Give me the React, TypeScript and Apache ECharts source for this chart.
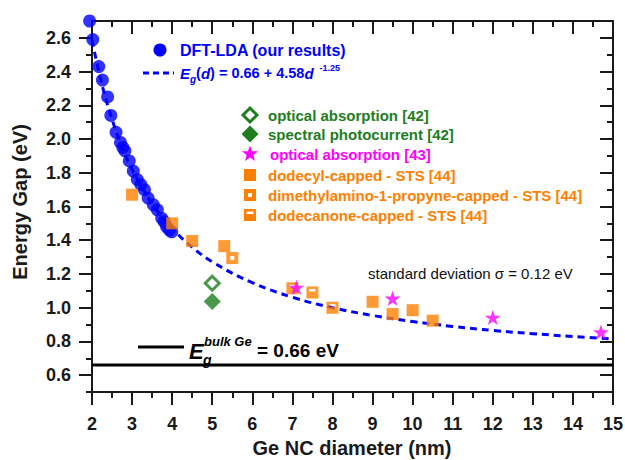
import React, { useEffect, useRef } from 'react';
import * as echarts from 'echarts';

// DFT-LDA (our results)
const dftD = [1.94, 2.02, 2.17, 2.26, 2.39, 2.47, 2.6, 2.71, 2.77, 2.82, 2.93, 3.03, 3.13, 3.22, 3.31, 3.4, 3.53, 3.63, 3.74, 3.8, 3.86, 3.93, 3.99];
const dftE = [2.7, 2.59, 2.43, 2.35, 2.25, 2.14, 2.04, 1.98, 1.95, 1.93, 1.87, 1.81, 1.76, 1.73, 1.7, 1.65, 1.61, 1.58, 1.53, 1.51, 1.48, 1.46, 1.45];
// Fit curve Eg(d) = 0.66 + 4.58 d^-1.25
const fitD = [2, 2.25, 2.5, 2.75, 3, 3.5, 4, 4.5, 5, 6, 7, 8, 9, 10, 11, 12, 13, 14, 15];
const fitE = [2.586, 2.322, 2.117, 1.953, 1.82, 1.617, 1.47, 1.359, 1.272, 1.148, 1.062, 1.0, 0.954, 0.918, 0.889, 0.865, 0.846, 0.829, 0.815];
// bulk Ge gap
const bulkD = [2, 15];
const bulkE = [0.66, 0.66];
// optical absorption [42] (open diamond)
const optAbs42D = [5.0];
const optAbs42E = [1.145];
// spectral photocurrent [42] (filled diamond)
const photo42D = [5.0];
const photo42E = [1.037];
// optical absorption [43] (stars)
const optAbs43D = [7.1, 9.5, 12.0, 14.7];
const optAbs43E = [1.12, 1.055, 0.942, 0.855];
// dodecyl-capped STS [44] (filled squares)
const dodecylD = [3.0, 4.0, 4.5, 5.3, 9.0, 9.5, 10.0, 10.5];
const dodecylE = [1.67, 1.5, 1.395, 1.365, 1.035, 0.962, 0.985, 0.923];
// dimethylamino-1-propyne-capped STS [44]
const dimethD = [5.5];
const dimethE = [1.295];
// dodecanone-capped STS [44]
const dodecanoneD = [7.0, 7.5, 8.0];
const dodecanoneE = [1.115, 1.09, 1.0];

const yMajor = [0.6, 0.8, 1.0, 1.2, 1.4, 1.6, 1.8, 2.0, 2.2, 2.4, 2.6];
const yMinor = [0.5, 0.7, 0.9, 1.1, 1.3, 1.5, 1.7, 1.9, 2.1, 2.3, 2.5];

const FONT = '"Liberation Sans", Arial, sans-serif';
const BLUE = '#0000ff';
const GREEN = '#1e7e1e';
const MAGENTA = '#ff00ff';
const ORANGE = '#ff8000';
const AX = '#1a1a1a';

const STAR = 'path://M50,0L61.2,34.5L97.6,34.5L68.2,55.9L79.4,90.5L50,69.1L20.6,90.5L31.8,55.9L2.4,34.5L38.8,34.5Z';
const SQ_HOLE = 'path://M0,0H12V12H0ZM4,4V8H8V4Z';
const SQ_BAR = 'path://M0,0H12V12H0ZM3,2.6V5H9V2.6Z';

const zip = (a: number[], b: number[]) => a.map((v, i) => [v, b[i]]);

function starPts(cx: number, cy: number, R: number, r: number) {
  const pts: number[][] = [];
  for (let i = 0; i < 10; i++) {
    const ang = -Math.PI / 2 + (i * Math.PI) / 5;
    const rad = i % 2 === 0 ? R : r;
    pts.push([cx + rad * Math.cos(ang), cy + rad * Math.sin(ang)]);
  }
  return pts;
}

export default function App() {
  const ref = useRef<HTMLDivElement>(null);
  useEffect(() => {
    if (!ref.current) return;
    const chart = echarts.init(ref.current, null, { renderer: 'svg' });
    const lineStyle = { color: AX, width: 2 };
    const hiddenLabel = { show: false };
    const yBase = { type: 'value', min: 0.5, max: 2.7, splitLine: { show: false } };
    const xBase = {
      type: 'value', min: 2, max: 15, interval: 1,
      splitLine: { show: false }, minorSplitLine: { show: false },
    };
    const legX = 250;
    const rows = [115, 134, 154, 175, 195, 215];
    const legText = (y: number, text: string, color: string, x = 268) => ({
      type: 'text', x, y,
      style: { text, fill: color, font: `bold 15px ${FONT}`, textVerticalAlign: 'middle', textAlign: 'left' },
    });

    chart.setOption({
      animation: false,
      backgroundColor: '#ffffff',
      grid: { left: 92, right: 12, top: 21, bottom: 68, outerBoundsMode: 'none', containLabel: false },
      xAxis: [
        {
          ...xBase, position: 'bottom',
          axisLine: { show: true, lineStyle, onZero: false },
          axisTick: { show: true, length: 13, lineStyle },
          minorTick: { show: true, splitNumber: 2, length: 6, lineStyle },
          axisLabel: { fontSize: 18, fontWeight: 'bold', color: AX, fontFamily: FONT, margin: 23 },
        },
        {
          ...xBase, position: 'top',
          axisLine: { show: true, lineStyle, onZero: false },
          axisTick: { show: true, inside: true, length: 13, lineStyle },
          minorTick: { show: true, splitNumber: 2, length: 6, lineStyle },
          axisLabel: hiddenLabel,
        },
      ],
      yAxis: [
        {
          ...yBase, position: 'left',
          axisLine: { show: true, lineStyle, onZero: false },
          axisTick: { show: true, customValues: yMajor, length: 13, lineStyle },
          axisLabel: {
            customValues: yMajor, formatter: (v: number) => v.toFixed(1),
            fontSize: 18, fontWeight: 'bold', color: AX, fontFamily: FONT, margin: 21,
          },
        },
        {
          ...yBase, position: 'left',
          axisLine: { show: false },
          axisTick: { show: true, customValues: yMinor, length: 6, lineStyle },
          axisLabel: hiddenLabel,
        },
        {
          ...yBase, position: 'right',
          axisLine: { show: true, lineStyle, onZero: false },
          axisTick: { show: true, inside: true, customValues: yMajor, length: 13, lineStyle },
          axisLabel: hiddenLabel,
        },
        {
          ...yBase, position: 'right',
          axisLine: { show: false },
          axisTick: { show: true, inside: true, customValues: yMinor, length: 6, lineStyle },
          axisLabel: hiddenLabel,
        },
      ],
      series: [
        {
          name: 'bulk', type: 'line', data: zip(bulkD, bulkE), showSymbol: false, symbol: 'none',
          lineStyle: { color: '#000', width: 3 }, z: 2, silent: true,
        },
        {
          name: 'fit', type: 'line', data: zip(fitD, fitE), smooth: 0.4, symbol: 'none', showSymbol: false,
          lineStyle: { color: BLUE, width: 3, type: [7, 5] }, z: 3, silent: true,
        },
        {
          name: 'DFT-LDA', type: 'scatter', data: zip(dftD, dftE), symbol: 'circle', symbolSize: 13,
          itemStyle: { color: BLUE }, clip: false, z: 4,
        },
        {
          name: 'optAbs42', type: 'scatter', data: zip(optAbs42D, optAbs42E), symbol: 'diamond', symbolSize: 14,
          itemStyle: { color: '#ffffff', borderColor: GREEN, borderWidth: 3 }, z: 5,
        },
        {
          name: 'photo42', type: 'scatter', data: zip(photo42D, photo42E), symbol: 'diamond', symbolSize: 17,
          itemStyle: { color: GREEN }, z: 5,
        },
        {
          name: 'dodecyl', type: 'scatter', data: zip(dodecylD, dodecylE), symbol: 'rect', symbolSize: 12,
          itemStyle: { color: ORANGE }, z: 5,
        },
        {
          name: 'dimeth', type: 'scatter', data: zip(dimethD, dimethE), symbol: SQ_HOLE, symbolSize: 12,
          itemStyle: { color: ORANGE }, z: 5,
        },
        {
          name: 'dodecanone', type: 'scatter', data: zip(dodecanoneD, dodecanoneE), symbol: SQ_BAR, symbolSize: 12,
          itemStyle: { color: ORANGE }, z: 5,
        },
        {
          name: 'optAbs43', type: 'scatter', data: zip(optAbs43D, optAbs43E), symbol: STAR, symbolSize: 16,
          symbolKeepAspect: true, itemStyle: { color: MAGENTA }, clip: false, z: 6,
        },
      ],
      graphic: [
        // axis titles
        {
          type: 'text', x: 352, y: 448,
          style: { text: 'Ge NC diameter (nm)', font: `bold 20px ${FONT}`, fill: AX, textAlign: 'center', textVerticalAlign: 'middle' },
        },
        {
          type: 'text', x: 20, y: 202, rotation: Math.PI / 2,
          style: { text: 'Energy Gap (eV)', font: `bold 20px ${FONT}`, fill: AX, textAlign: 'center', textVerticalAlign: 'middle' },
        },
        // legend group 1
        { type: 'circle', shape: { cx: 160, cy: 50, r: 6.5 }, style: { fill: BLUE } },
        {
          type: 'text', x: 180, y: 50,
          style: { text: 'DFT-LDA (our results)', font: `bold 16px ${FONT}`, fill: BLUE, textVerticalAlign: 'middle' },
        },
        { type: 'line', shape: { x1: 143, y1: 73, x2: 174, y2: 73 }, style: { stroke: BLUE, lineWidth: 3, lineDash: [6, 4] } },
        {
          type: 'text', x: 180, y: 73,
          style: {
            text: '{e|E}{s|g}{n|(}{e|d}{n|) = 0.66 + 4.58}{e|d}{p|-1.25}',
            fill: BLUE, textVerticalAlign: 'middle',
            rich: {
              e: { fill: BLUE, fontSize: 15, fontWeight: 'bold', fontStyle: 'italic', fontFamily: FONT },
              n: { fill: BLUE, fontSize: 14.5, fontWeight: 'bold', fontFamily: FONT },
              s: { fill: BLUE, fontSize: 10, fontWeight: 'bold', fontStyle: 'italic', fontFamily: FONT, padding: [12, 0, 0, 0] },
              p: { fill: BLUE, fontSize: 9, fontWeight: 'bold', fontFamily: FONT, padding: [0, 0, 10, 6] },
            },
          },
        },
        // legend group 2
        {
          type: 'polygon', shape: { points: [[legX, rows[0] - 7], [legX + 7, rows[0]], [legX, rows[0] + 7], [legX - 7, rows[0]]] },
          style: { fill: '#fff', stroke: GREEN, lineWidth: 3 },
        },
        legText(rows[0], 'optical absorption [42]', GREEN),
        {
          type: 'polygon', shape: { points: [[legX, rows[1] - 8.5], [legX + 8.5, rows[1]], [legX, rows[1] + 8.5], [legX - 8.5, rows[1]]] },
          style: { fill: GREEN },
        },
        legText(rows[1], 'spectral photocurrent [42]', GREEN),
        { type: 'polygon', shape: { points: starPts(legX, rows[2], 8.5, 3.5) }, style: { fill: MAGENTA } },
        legText(rows[2], 'optical absorption [43]', MAGENTA, 270),
        { type: 'rect', shape: { x: legX - 6, y: rows[3] - 6, width: 12, height: 12 }, style: { fill: ORANGE } },
        legText(rows[3], 'dodecyl-capped - STS [44]', ORANGE),
        { type: 'rect', shape: { x: legX - 6, y: rows[4] - 6, width: 12, height: 12 }, style: { fill: ORANGE } },
        { type: 'rect', shape: { x: legX - 2, y: rows[4] - 2, width: 4, height: 4 }, style: { fill: '#fff' } },
        legText(rows[4], 'dimethylamino-1-propyne-capped - STS [44]', ORANGE),
        { type: 'rect', shape: { x: legX - 6, y: rows[5] - 6, width: 12, height: 12 }, style: { fill: ORANGE } },
        { type: 'rect', shape: { x: legX - 3.5, y: rows[5] - 3.5, width: 7, height: 2.5 }, style: { fill: '#fff' } },
        legText(rows[5], 'dodecanone-capped - STS [44]', ORANGE),
        // standard deviation note
        {
          type: 'text', x: 368, y: 273,
          style: { text: 'standard deviation σ = 0.12 eV', font: `15px ${FONT}`, fill: '#111', textVerticalAlign: 'middle' },
        },
        // bulk Ge label
        { type: 'line', shape: { x1: 138, y1: 347, x2: 184, y2: 347 }, style: { stroke: '#000', lineWidth: 3 } },
        {
          type: 'text', x: 189, y: 351,
          style: { text: 'E', font: `italic bold 22px ${FONT}`, fill: '#000', textVerticalAlign: 'middle' },
        },
        {
          type: 'text', x: 204, y: 341,
          style: { text: 'bulk Ge', font: `italic bold 13px ${FONT}`, fill: '#000', textVerticalAlign: 'middle' },
        },
        {
          type: 'text', x: 203, y: 360,
          style: { text: 'g', font: `italic bold 14px ${FONT}`, fill: '#000', textVerticalAlign: 'middle' },
        },
        {
          type: 'text', x: 257, y: 350,
          style: { text: '= 0.66 eV', font: `bold 19px ${FONT}`, fill: '#000', textVerticalAlign: 'middle' },
        },
      ],
    });
    return () => chart.dispose();
  }, []);
  return (
    <div
      ref={ref}
      style={{ position: 'fixed', left: 0, top: 0, width: 625, height: 460, background: '#fff' }}
    />
  );
}
